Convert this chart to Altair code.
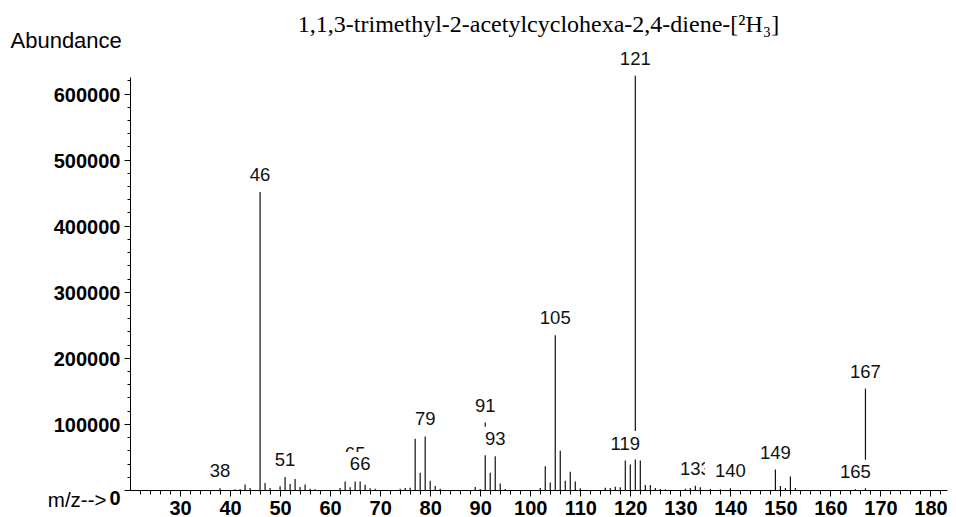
import altair as alt
import pandas as pd

# ---- data ----
peak_mz = [38, 41, 42, 43, 44, 46, 47, 48, 50, 51, 52, 53, 54, 55, 56, 57,
           62, 63, 64, 65, 66, 67, 68, 69, 74, 75, 76, 77, 78, 79, 80, 81, 82,
           89, 90, 91, 92, 93, 94, 95, 102, 103, 104, 105, 106, 107, 108, 109, 110,
           115, 116, 117, 118, 119, 120, 121, 122, 123, 124, 125, 126, 127,
           131, 132, 133, 134, 136, 138, 140, 149, 150, 151, 152, 153, 165, 167]
peak_abund = [2500, 1200, 1500, 8500, 3000, 451000, 10500, 3000, 5500, 19500, 9000, 16500, 4500, 8500, 2000, 1200,
              3000, 13000, 4000, 13000, 13000, 8000, 2500, 2000, 2000, 3000, 3500, 77500, 26000, 81000, 14000, 6000, 2000,
              4500, 1500, 102000, 26000, 51000, 10000, 1500, 3000, 36000, 11500, 234000, 59500, 14000, 27500, 13000, 2500,
              3500, 3000, 5000, 4000, 44500, 38500, 627000, 44500, 7500, 7500, 3000, 1500, 1000,
              2000, 3000, 6500, 4000, 1500, 1200, 2500, 31000, 6000, 3000, 20500, 3000, 1200, 153500]

label_mz = [38, 46, 51, 65, 66, 79, 91, 93, 105, 119, 121, 133, 140, 149, 165, 167]
label_on_top = [66, 140]     # their white boxes are drawn over neighbouring labels
label_raised = [65]          # label lifted above the others

title_text = "1,1,3-trimethyl-2-acetylcyclohexa-2,4-diene-[²H₃]"
x_tick_values = list(range(22, 184, 2))
y_tick_values = list(range(0, 620001, 20000))

# ---- tables ----
peaks = pd.DataFrame({"mz": peak_mz, "abund": peak_abund})
lookup = dict(zip(peak_mz, peak_abund))

UNIT = 30.0  # px per path unit (sqrt(size)/2)
def box_path(label, raised):
    hw = (len(label) * 0.556 * 18.5 / 2 + 10) / UNIT
    base = -21 if raised else -11
    top = (base - 18.5) / UNIT
    bot = (base + 10) / UNIT
    return f"M{-hw:.3f},{top:.3f}H{hw:.3f}V{bot:.3f}H{-hw:.3f}Z"

rows = []
for m in label_mz:
    lab = str(m)
    raised = m in label_raised
    rows.append({
        "mz": m,
        "abund": lookup[m],
        "label": lab,
        "tier": "top" if m in label_on_top else ("raised" if raised else "base"),
        "path": box_path(lab, raised),
    })
labels = pd.DataFrame(rows)

FONT = "Liberation Sans"
INK = "#111111"

x_enc = alt.X(
    "mz:Q",
    scale=alt.Scale(domain=[20, 183.3], nice=False, zero=False),
    axis=alt.Axis(
        values=x_tick_values, format="d",
        labelExpr="datum.value % 10 === 0 ? datum.label : ''",
        tickSize={"condition": {"test": "datum.value % 10 === 0", "value": 6}, "value": 4},
        labelFont=FONT, labelFontSize=20, labelFontWeight="bold", labelColor="black",
        labelPadding=2, labelOverlap=False, labelFlush=False, grid=False,
        domainColor="black", tickColor="black", domainWidth=1, tickWidth=1,
        title="m/z-->", titleAngle=0, titleAlign="right", titleBaseline="alphabetic",
        titleX=-24, titleY=16, titleFont=FONT, titleFontSize=20.5,
        titleFontWeight="normal", titleColor="black", zindex=1,
    ),
)
y_enc = alt.Y(
    "abund:Q",
    scale=alt.Scale(domain=[0, 625000], nice=False),
    axis=alt.Axis(
        values=y_tick_values, format="d",
        labelExpr="datum.value % 100000 === 0 ? datum.label : ''",
        tickSize={"condition": {"test": "datum.value % 100000 === 0", "value": 6}, "value": 3},
        labelOffset={"condition": {"test": "datum.value === 0", "value": 8}, "value": 2},
        labelFont=FONT, labelFontSize=20, labelFontWeight="bold", labelColor="black",
        labelPadding=4, labelOverlap=False, grid=False,
        domainColor="black", tickColor="black", domainWidth=1, tickWidth=1,
        title="Abundance", titleAngle=0, titleAlign="left", titleBaseline="alphabetic",
        titleX=-120, titleY=-30, titleFont=FONT, titleFontSize=22,
        titleFontWeight="normal", titleColor="black", zindex=1,
    ),
)

sticks = alt.Chart(peaks).mark_rule(color=INK, strokeWidth=1.2).encode(
    x=x_enc, y=y_enc, y2=alt.datum(0)
)

lab_base = alt.Chart(labels)

def boxes(tiers):
    return lab_base.transform_filter(
        alt.FieldOneOfPredicate(field="tier", oneOf=tiers)
    ).mark_point(filled=True, color="white", opacity=1, size=3600, strokeWidth=0).encode(
        x=x_enc, y=y_enc, shape=alt.Shape("path:N", scale=None)
    )

def texts(tiers, dy):
    return lab_base.transform_filter(
        alt.FieldOneOfPredicate(field="tier", oneOf=tiers)
    ).mark_text(font=FONT, fontSize=18.5, baseline="alphabetic", align="center",
                dy=dy, color=INK).encode(x=x_enc, y=y_enc, text="label:N")

chart = alt.layer(
    sticks,
    boxes(["base", "raised"]),
    texts(["base"], -11),
    texts(["raised"], -21),
    boxes(["top"]),
    texts(["top"], -11),
).properties(
    width=817, height=413,
    title=alt.TitleParams(
        text=title_text, font="Liberation Serif", fontSize=24, fontWeight="normal",
        color="black", anchor="middle", frame="group", baseline="alphabetic", offset=-27,
    ),
    padding={"left": 122, "top": 69, "right": 1, "bottom": 27},
    autosize=alt.AutoSizeParams(type="none"),
).configure_view(stroke=None)

chart.save("out.html", embed_options={"renderer": "svg", "actions": False})
